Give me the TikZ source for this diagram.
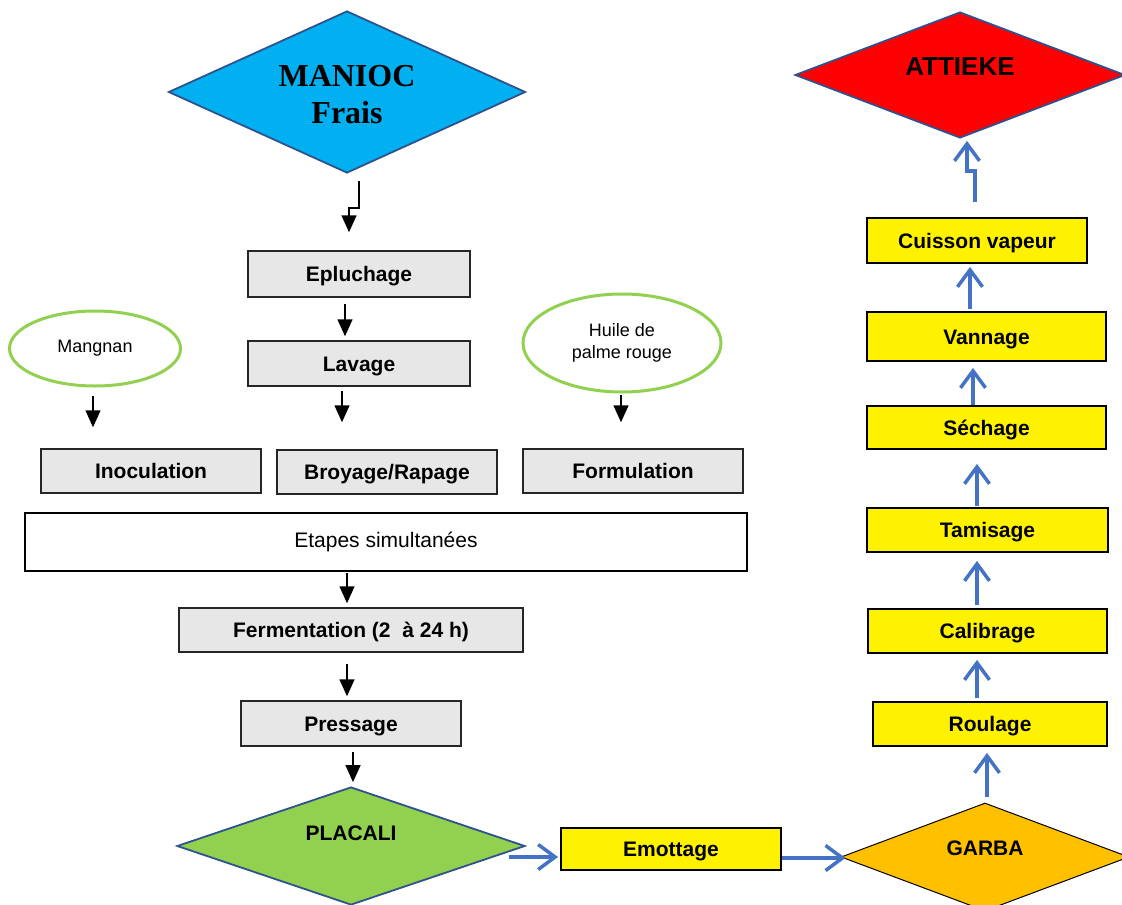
\documentclass[tikz,border=0pt]{standalone}
\usepackage{fontspec}
\setmainfont{Liberation Sans}
\newfontfamily\timesfont{Liberation Serif}
\usepackage{tikz}
\usetikzlibrary{arrows.meta, positioning, shapes.geometric}
\definecolor{manblue}{RGB}{0,176,240}
\definecolor{edgeblue}{RGB}{47,82,143}
\definecolor{arrblue}{RGB}{68,114,196}
\definecolor{leafgreen}{RGB}{146,208,80}
\definecolor{garbaorange}{RGB}{255,192,0}
\definecolor{boxgray}{RGB}{231,231,231}

\begin{document}
\begin{tikzpicture}[x=1pt, y=1pt,
    blk/.style={-{Triangle[length=17pt,width=15pt]}, line width=1.5pt},
    blu/.style={-{Straight Barb[length=17pt,width=25pt]}, line width=3.5pt, arrblue},
    graybox/.style={draw=black!85, fill=boxgray, line width=1.5pt, minimum width=220pt, minimum height=45pt, inner sep=0pt, text height=15.5pt, text depth=0pt, font=\fontsize{21}{24}\selectfont\bfseries},
    yelbox/.style={graybox, draw=black, fill=yellow, line width=1.8pt},
    blob/.style={ellipse, draw=leafgreen, line width=3pt, inner sep=0pt, align=center, font=\fontsize{18}{22}\selectfont},
    dia/.style={diamond, draw=edgeblue, line width=1.8pt, inner sep=0pt},
]
    \useasboundingbox (0,0) rectangle (1122,-905);
    \clip (0,0) rectangle (1122,-905);

    % left column
    \node[dia, fill=manblue, minimum width=357pt, minimum height=162pt] (manioc) at (347,-92) {};
    \node[font=\timesfont\fontsize{32}{37}\selectfont\bfseries, align=center] at ([yshift=-3pt]manioc.center) {MANIOC\\Frais};

    \node[graybox, minimum width=222pt, minimum height=46pt] (epl) at (359,-274) {Epluchage};
    \node[graybox, minimum width=222pt] (lav) at (359,-363.5) {Lavage};

    \node[blob, minimum width=171pt, minimum height=75pt] (mang) at (95,-348.5) {Mangnan};
    \node[blob, minimum width=198pt, minimum height=98pt] (huile) at (622,-343) {Huile de\\palme rouge};

    \node[graybox, minimum height=44pt] (inoc) at (151,-471) {Inoculation};
    \node[graybox, minimum height=44pt] (broy) at (387,-472) {Broyage/Rapage};
    \node[graybox, minimum height=44pt] (form) at (633,-471) {Formulation};

    \node[draw, line width=1.5pt, fill=white, minimum width=722pt, minimum height=58pt, inner sep=0pt, font=\fontsize{21}{24}\selectfont] (etapes) at (386,-542) {Etapes simultanées};

    \node[graybox, minimum width=344pt, minimum height=44pt] (ferm) at (351,-630) {Fermentation (2~~à 24 h)};
    \node[graybox] (press) at (351,-723.5) {Pressage};

    \node[dia, fill=leafgreen, minimum width=348pt, minimum height=118pt] (plac) at (351,-846) {};
    \node[font=\fontsize{21}{24}\selectfont\bfseries] at ([yshift=13pt]plac.center) {PLACALI};

    % bottom and right column
    \node[yelbox, minimum height=42pt] (emot) at (671,-849) {Emottage};
    \node[dia, draw=black, line width=1pt, fill=garbaorange, minimum width=288pt, minimum height=108pt] (garba) at (985,-857) {};
    \node[font=\fontsize{21}{24}\selectfont\bfseries] at ([yshift=9pt]garba.center) {GARBA};

    \node[yelbox, minimum width=234pt, minimum height=44pt] (roul) at (990,-724) {Roulage};
    \node[yelbox, minimum width=239pt, minimum height=44pt] (calib) at (987.5,-631) {Calibrage};
    \node[yelbox, minimum width=241pt, minimum height=44pt] (tamis) at (987.5,-530) {Tamisage};
    \node[yelbox, minimum width=239pt, minimum height=43pt] (sech) at (986.5,-427.5) {Séchage};
    \node[yelbox, minimum width=239pt, minimum height=49pt] (vann) at (986.5,-336.5) {Vannage};
    \node[yelbox, minimum width=220pt] (cuis) at (977,-240.5) {Cuisson vapeur};

    \node[dia, fill=red, minimum width=330pt, minimum height=126pt] (attieke) at (960,-75) {};
    \node[font=\fontsize{26}{30}\selectfont\bfseries] at ([yshift=8pt]attieke.center) {ATTIEKE};

    % black arrows
    \draw[blk] ([xshift=12pt,yshift=-7pt]manioc.south) -- ++(0,-27) -| ([xshift=-10pt,yshift=18pt]epl.north);
    \draw[blk] ([xshift=-14pt,yshift=-6pt]epl.south) -- ([xshift=-14pt,yshift=4pt]lav.north);
    \draw[blk] ([xshift=-17pt,yshift=-4pt]lav.south) -- ([xshift=-45pt,yshift=27pt]broy.north);
    \draw[blk] ([xshift=-2pt,yshift=-8pt]mang.south) -- ([xshift=-58pt,yshift=21pt]inoc.north);
    \draw[blk] ([xshift=-1pt,yshift=-1pt]huile.south) -- ([xshift=-12pt,yshift=26pt]form.north);
    \draw[blk] ([xshift=-39pt,yshift=-1pt]etapes.south) -- ([xshift=-4pt,yshift=4pt]ferm.north);
    \draw[blk] ([xshift=-4pt,yshift=-11pt]ferm.south) -- ([xshift=-4pt,yshift=4pt]press.north);
    \draw[blk] ([xshift=2pt,yshift=-5pt]press.south) -- ([xshift=2pt,yshift=4pt]plac.north);

    % blue arrows
    \draw[blu] ([xshift=-17pt,yshift=-11pt]plac.east) -- ([xshift=-2pt,yshift=-8pt]emot.west);
    \draw[blu] ([yshift=-9pt]emot.east) -- ([xshift=5pt,yshift=-1pt]garba.west);
    \draw[blu] ([xshift=2pt,yshift=6pt]garba.north) -- ([xshift=-3pt,yshift=-6pt]roul.south);
    \draw[blu] ([xshift=-13pt,yshift=3pt]roul.north) -- ([xshift=-10.5pt,yshift=-6pt]calib.south);
    \draw[blu] ([xshift=-10.5pt,yshift=3pt]calib.north) -- ([xshift=-10.5pt,yshift=-8pt]tamis.south);
    \draw[blu] ([xshift=-10.5pt,yshift=1pt]tamis.north) -- ([xshift=-9.5pt,yshift=-14pt]sech.south);
    \draw[blu] ([xshift=-13.5pt]sech.north) -- ([xshift=-13.5pt,yshift=-6pt]vann.south);
    \draw[blu] ([xshift=-16.5pt,yshift=2pt]vann.north) -- ([xshift=-7pt,yshift=-3pt]cuis.south);
    \draw[blu] ([xshift=-2pt,yshift=15pt]cuis.north) -- ++(0,31) -| ([xshift=7pt,yshift=-2pt]attieke.south);
\end{tikzpicture}
\end{document}
